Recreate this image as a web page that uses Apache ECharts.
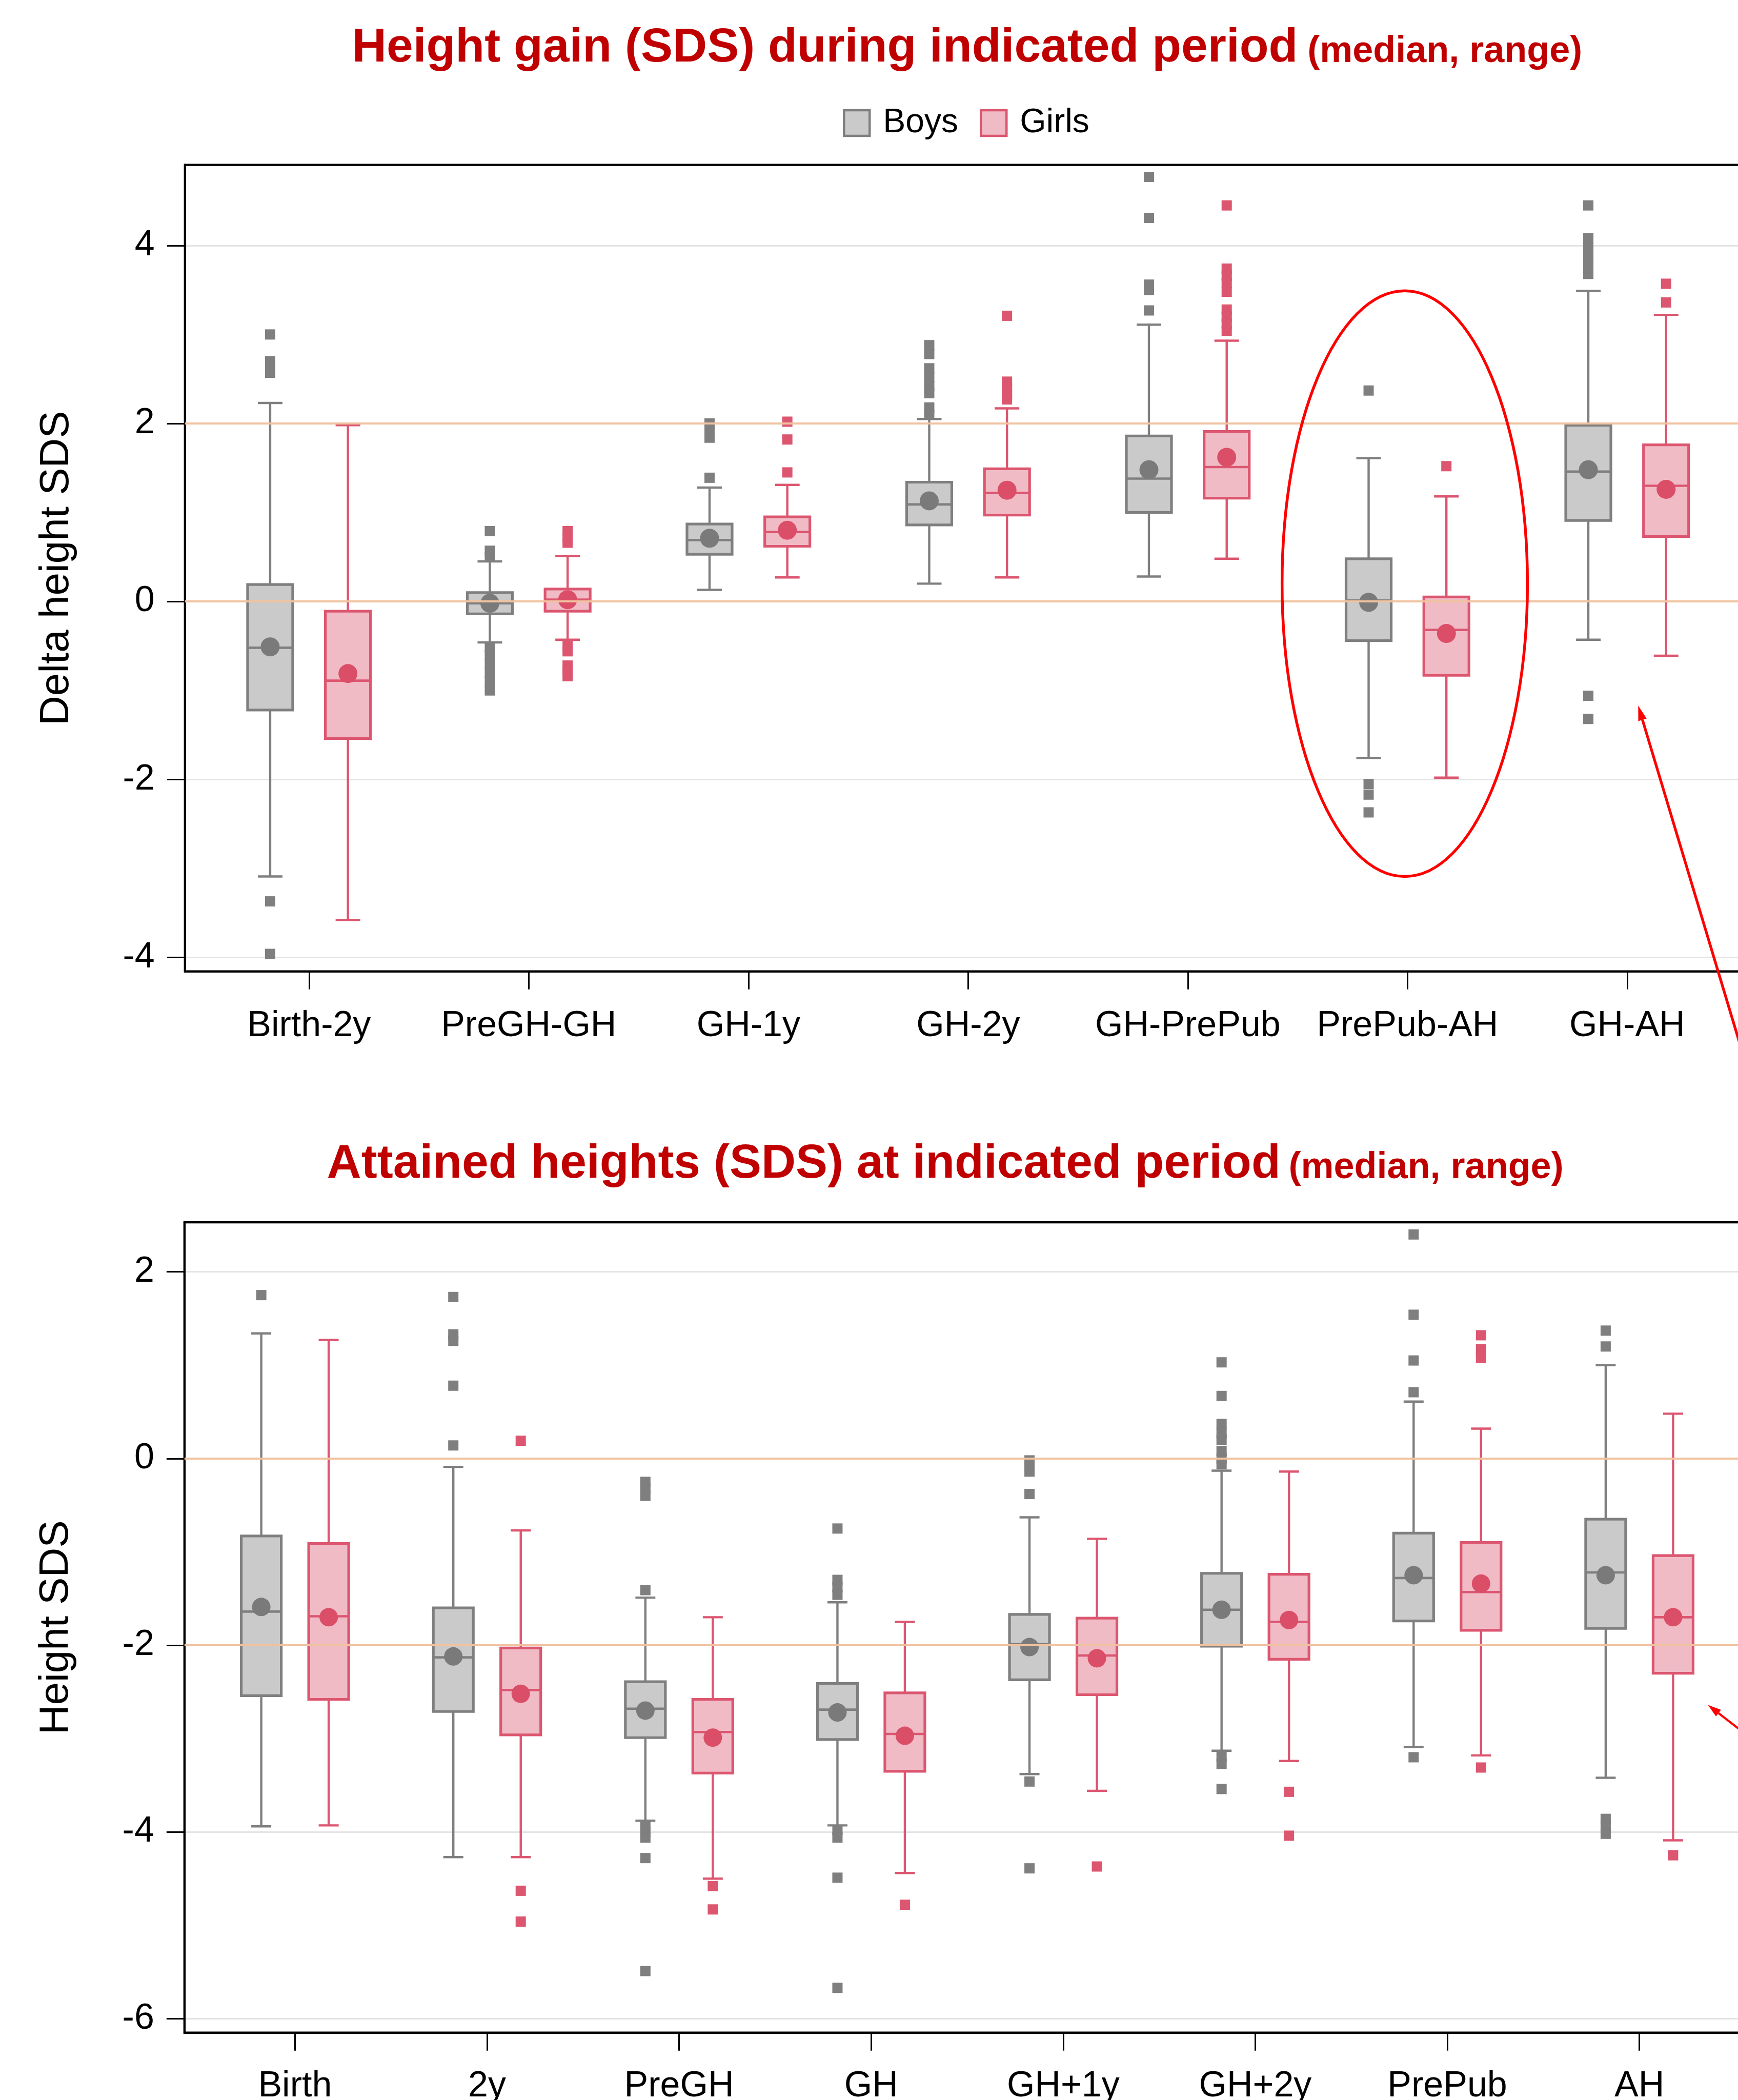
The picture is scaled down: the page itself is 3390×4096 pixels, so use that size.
<!DOCTYPE html>
<html><head><meta charset="utf-8">
<script src="https://cdn.jsdelivr.net/npm/echarts@6/dist/echarts.min.js"></script>
<style>html,body{margin:0;padding:0;background:#fff}#c{width:3390px;height:4096px}</style>
</head><body><div id="c"></div>
<script>
// ---------------- DATA ----------------
// Box values: [min, Q1, median, Q3, max]
const gainCategories = ['Birth-2y', 'PreGH-GH', 'GH-1y', 'GH-2y', 'GH-PrePub', 'PrePub-AH', 'GH-AH'];
const gainBoysBox = [
  [-3.09, -1.22, -0.52, 0.19, 2.23],
  [-0.46, -0.14, -0.02, 0.10, 0.45],
  [0.13, 0.53, 0.69, 0.87, 1.28],
  [0.20, 0.86, 1.09, 1.34, 2.05],
  [0.28, 1.00, 1.38, 1.86, 3.11],
  [-1.76, -0.44, 0.01, 0.48, 1.61],
  [-0.43, 0.91, 1.46, 1.98, 3.49]
];
const gainBoysMean = [-0.51, -0.02, 0.71, 1.13, 1.48, -0.01, 1.48];
const gainBoysOutliers = [
  [3.00, 2.70, 2.63, 2.57, -3.37, -3.96],
  [0.79, 0.57, 0.50, -0.52, -0.60, -0.70, -0.80, -0.90, -1.00],
  [2.00, 1.92, 1.84, 1.39],
  [2.88, 2.78, 2.62, 2.52, 2.42, 2.34, 2.18, 2.10],
  [4.77, 4.31, 3.56, 3.50, 3.27],
  [2.37, -2.05, -2.17, -2.37],
  [4.45, 4.08, 3.98, 3.88, 3.78, 3.68, -1.06, -1.32]
];
const gainGirlsBox = [
  [-3.58, -1.54, -0.89, -0.11, 1.98],
  [-0.43, -0.11, 0.02, 0.14, 0.51],
  [0.27, 0.62, 0.78, 0.95, 1.31],
  [0.27, 0.97, 1.22, 1.49, 2.17],
  [0.48, 1.16, 1.51, 1.91, 2.93],
  [-1.98, -0.83, -0.32, 0.05, 1.18],
  [-0.61, 0.73, 1.30, 1.76, 3.22]
];
const gainGirlsMean = [-0.81, 0.02, 0.80, 1.25, 1.62, -0.36, 1.26];
const gainGirlsOutliers = [
  [],
  [0.79, 0.72, 0.66, -0.50, -0.56, -0.72, -0.78, -0.84],
  [2.02, 1.82, 1.45],
  [3.21, 2.47, 2.40, 2.33, 2.27],
  [4.45, 3.74, 3.66, 3.58, 3.48, 3.28, 3.20, 3.12, 3.04],
  [1.52],
  [3.57, 3.36]
];
const gainTicks = [-4, -2, 0, 2, 4];
const gainRefLines = [0, 2];

const attCategories = ['Birth', '2y', 'PreGH', 'GH', 'GH+1y', 'GH+2y', 'PrePub', 'AH'];
const attBoysBox = [
  [-3.94, -2.54, -1.64, -0.83, 1.34],
  [-4.27, -2.71, -2.13, -1.60, -0.09],
  [-3.88, -2.99, -2.68, -2.39, -1.49],
  [-3.93, -3.01, -2.69, -2.41, -1.54],
  [-3.38, -2.37, -1.99, -1.67, -0.63],
  [-3.13, -2.01, -1.62, -1.23, -0.13],
  [-3.09, -1.74, -1.28, -0.80, 0.61],
  [-3.42, -1.82, -1.22, -0.65, 1.00]
];
const attBoysMean = [-1.59, -2.12, -2.70, -2.72, -2.02, -1.62, -1.25, -1.25];
const attBoysOutliers = [
  [1.75],
  [1.73, 1.33, 1.26, 0.78, 0.14],
  [-0.25, -0.32, -0.40, -1.41, -3.93, -4.00, -4.06, -4.28, -5.49],
  [-0.75, -1.30, -1.38, -1.46, -3.98, -4.06, -4.49, -5.67],
  [-0.02, -0.08, -0.14, -0.38, -3.46, -4.39],
  [1.03, 0.67, 0.37, 0.27, 0.20, 0.08, 0.00, -0.06, -3.19, -3.27, -3.54],
  [2.40, 1.54, 1.05, 0.71, -3.20],
  [1.37, 1.20, -3.86, -3.94, -4.02]
];
const attGirlsBox = [
  [-3.93, -2.58, -1.69, -0.91, 1.27],
  [-4.27, -2.96, -2.48, -2.03, -0.77],
  [-4.50, -3.37, -2.93, -2.58, -1.70],
  [-4.44, -3.35, -2.95, -2.51, -1.75],
  [-3.56, -2.53, -2.11, -1.71, -0.86],
  [-3.24, -2.15, -1.75, -1.24, -0.14],
  [-3.18, -1.84, -1.43, -0.90, 0.32],
  [-4.09, -2.30, -1.70, -1.04, 0.48]
];
const attGirlsMean = [-1.70, -2.52, -2.99, -2.97, -2.14, -1.73, -1.34, -1.70];
const attGirlsOutliers = [
  [],
  [0.19, -4.63, -4.96],
  [-4.58, -4.83],
  [-4.78],
  [-4.37],
  [-3.57, -4.04],
  [1.32, 1.17, 1.08, -3.31],
  [-4.25]
];
const attTicks = [-6, -4, -2, 0, 2];
const attRefLines = [-2, 0];

// annotation anchors (data coordinates of each panel)
const gainEllipse = {xFrom: 5.429, xTo: 6.546, yFrom: -3.09, yTo: 3.49};
const gainArrow = {tip: [7.05, -1.17], tail: [7.62, -5.85]};
const attArrow = {tip: [8.357, -2.64], tail: [8.646, -3.10]};

// ---------------- STYLE ----------------
const S = 0.966;
const FF = '"Liberation Sans", Arial, Helvetica, sans-serif';
const COL = {
  boysLine: '#7f7f7f', boysFill: 'rgba(128,128,128,0.42)', boysDot: '#7a7a7a',
  girlsLine: '#dc5670', girlsFill: 'rgba(220,86,112,0.40)', girlsDot: '#db4e68',
  grid: '#e4e4e4', ref: '#f0c2a0', title: '#c00000', annot: '#ff0000'
};

const panels = [
  {
    cats: gainCategories, boys: gainBoysBox, girls: gainGirlsBox,
    boysMean: gainBoysMean, girlsMean: gainGirlsMean,
    boysOut: gainBoysOutliers, girlsOut: gainGirlsOutliers,
    ticks: gainTicks, refs: gainRefLines, name: 'Delta height SDS',
    grid: {left: 373.5 * S, top: 333 * S, width: 3162.6 * S, height: 1628.4 * S},
    xMin: 0.4353, xMax: 7.5647, yMin: -4.157, yMax: 4.905,
    off: 0.177, boxW: 88, capW: 48, dot: 37, labelMargin: 72
  },
  {
    cats: attCategories, boys: attBoysBox, girls: attGirlsBox,
    boysMean: attBoysMean, girlsMean: attGirlsMean,
    boysOut: attBoysOutliers, girlsOut: attGirlsOutliers,
    ticks: attTicks, refs: attRefLines, name: 'Height SDS',
    grid: {left: 372.5 * S, top: 2468 * S, width: 3160.8 * S, height: 1636.2 * S},
    xMin: 0.4247, xMax: 8.5753, yMin: -6.15, yMax: 2.53,
    off: 0.1755, boxW: 78, capW: 39, dot: 36, labelMargin: 70
  }
];

function boxRenderer(boxW, capW, lineColor, fillColor) {
  return function (params, api) {
    const x = api.value(0);
    const pMin = api.coord([x, api.value(1)]);
    const pQ1 = api.coord([x, api.value(2)]);
    const pMed = api.coord([x, api.value(3)]);
    const pQ3 = api.coord([x, api.value(4)]);
    const pMax = api.coord([x, api.value(5)]);
    const cx = pMed[0], hw = boxW / 2, hc = capW / 2;
    const ls = {stroke: lineColor, lineWidth: 4.4};
    return {
      type: 'group',
      children: [
        {type: 'line', shape: {x1: cx, y1: pMax[1], x2: cx, y2: pQ3[1]}, style: ls},
        {type: 'line', shape: {x1: cx, y1: pQ1[1], x2: cx, y2: pMin[1]}, style: ls},
        {type: 'line', shape: {x1: cx - hc, y1: pMax[1], x2: cx + hc, y2: pMax[1]}, style: ls},
        {type: 'line', shape: {x1: cx - hc, y1: pMin[1], x2: cx + hc, y2: pMin[1]}, style: ls},
        {type: 'rect', shape: {x: cx - hw, y: pQ3[1], width: boxW, height: pQ1[1] - pQ3[1]},
          style: {fill: fillColor, stroke: lineColor, lineWidth: 5.2}},
        {type: 'line', shape: {x1: cx - hw, y1: pMed[1], x2: cx + hw, y2: pMed[1]},
          style: {stroke: lineColor, lineWidth: 4.6}}
      ]
    };
  };
}

const grids = [], xAxes = [], yAxes = [], series = [];
panels.forEach(function (p, gi) {
  grids.push(Object.assign({show: true, borderColor: '#000', borderWidth: 4.2, backgroundColor: 'transparent',
    containLabel: false, outerBoundsMode: 'none'}, p.grid));
  const catIdx = p.cats.map(function (c, i) { return i + 1; });
  xAxes.push({
    type: 'value', gridIndex: gi, min: p.xMin, max: p.xMax,
    axisLine: {show: true, onZero: false, lineStyle: {color: '#000', width: 4.2}},
    axisTick: {show: true, inside: false, length: 35, customValues: catIdx, lineStyle: {color: '#000', width: 3}},
    axisLabel: {show: true, customValues: catIdx, margin: p.labelMargin, fontSize: 70, color: '#000', fontFamily: FF,
      formatter: function (v) { return p.cats[Math.round(v) - 1] || ''; }},
    splitLine: {show: false}
  });
  yAxes.push({
    type: 'value', gridIndex: gi, min: p.yMin, max: p.yMax,
    name: p.name, nameLocation: 'middle', nameGap: 210,
    nameTextStyle: {fontSize: 80, color: '#000', fontFamily: FF},
    axisLine: {show: true, onZero: false, lineStyle: {color: '#000', width: 4.2}},
    axisTick: {show: true, inside: false, length: 35, customValues: p.ticks, lineStyle: {color: '#000', width: 3}},
    axisLabel: {show: true, customValues: p.ticks, margin: 59, fontSize: 70, color: '#000', fontFamily: FF},
    splitLine: {show: true, lineStyle: {color: COL.grid, width: 3}}
  });
  // reference lines
  series.push({
    type: 'scatter', name: 'ref' + gi, xAxisIndex: gi, yAxisIndex: gi, data: [], z: 1, silent: true,
    markLine: {silent: true, symbol: ['none', 'none'], label: {show: false},
      lineStyle: {color: COL.ref, width: 4, type: 'solid'},
      emphasis: {disabled: true},
      data: p.refs.map(function (v) { return {yAxis: v}; })}
  });
  const groups = [
    {name: 'Boys', box: p.boys, mean: p.boysMean, out: p.boysOut, sign: -1, line: COL.boysLine, fill: COL.boysFill, dot: COL.boysDot},
    {name: 'Girls', box: p.girls, mean: p.girlsMean, out: p.girlsOut, sign: 1, line: COL.girlsLine, fill: COL.girlsFill, dot: COL.girlsDot}
  ];
  groups.forEach(function (g) {
    const xs = g.box.map(function (b, i) { return i + 1 + g.sign * p.off; });
    series.push({
      type: 'custom', name: g.name, xAxisIndex: gi, yAxisIndex: gi, z: 2, silent: true,
      renderItem: boxRenderer(p.boxW, p.capW, g.line, g.fill),
      encode: {x: 0, y: [1, 2, 3, 4, 5]},
      itemStyle: {color: g.fill, borderColor: g.line},
      data: g.box.map(function (b, i) { return [xs[i]].concat(b); })
    });
    const outData = [];
    g.out.forEach(function (arr, i) { arr.forEach(function (v) { outData.push([xs[i], v]); }); });
    series.push({
      type: 'scatter', name: g.name, xAxisIndex: gi, yAxisIndex: gi, z: 3, silent: true,
      symbol: 'rect', symbolSize: 20, itemStyle: {color: g.line, opacity: 1},
      data: outData
    });
    series.push({
      type: 'scatter', name: g.name, xAxisIndex: gi, yAxisIndex: gi, z: 4, silent: true,
      symbol: 'circle', symbolSize: p.dot, itemStyle: {color: g.dot, opacity: 1},
      data: g.mean.map(function (m, i) { return [xs[i], m]; })
    });
  });
});

const chart = echarts.init(document.getElementById('c'), null, {renderer: 'canvas'});
chart.setOption({
  animation: false,
  backgroundColor: '#ffffff',
  textStyle: {fontFamily: FF},
  grid: grids, xAxis: xAxes, yAxis: yAxes, series: series,
  legend: {
    show: true, left: 1644, top: 207, padding: 0, itemWidth: 50, itemHeight: 50, itemGap: 42,
    selectedMode: false, icon: 'rect',
    textStyle: {fontSize: 66, color: '#000', fontFamily: FF, padding: [0, 0, 0, 21]},
    data: [
      {name: 'Boys', icon: 'rect', itemStyle: {color: COL.boysFill, borderColor: COL.boysLine, borderWidth: 4.5}},
      {name: 'Girls', icon: 'rect', itemStyle: {color: COL.girlsFill, borderColor: COL.girlsLine, borderWidth: 4.5}}
    ]
  }
});

// ---------------- TEXT + ANNOTATIONS ----------------
function px(gi, pt) { return chart.convertToPixel({xAxisIndex: gi, yAxisIndex: gi}, pt); }
function arrow(gi, a, lw, L, W, id) {
  const t = px(gi, a.tip), s = px(gi, a.tail);
  const dx = t[0] - s[0], dy = t[1] - s[1], len = Math.sqrt(dx * dx + dy * dy);
  const ux = dx / len, uy = dy / len, nx = -uy, ny = ux;
  const bx = t[0] - ux * L, by = t[1] - uy * L;
  return [
    {type: 'line', id: id + 'l', z: 100, shape: {x1: s[0], y1: s[1], x2: bx, y2: by},
      style: {stroke: COL.annot, lineWidth: lw}},
    {type: 'polygon', id: id + 'h', z: 100, shape: {points: [t, [bx + nx * W / 2, by + ny * W / 2], [bx - nx * W / 2, by - ny * W / 2]]},
      style: {fill: COL.annot}}
  ];
}
function txt(id, text, x, y, size) {
  return {type: 'text', id: id, z: 100, style: {text: text, x: x, y: y, fill: COL.title, fontSize: size,
    fontWeight: 'bold', fontFamily: FF, align: 'left', verticalAlign: 'middle', textAlign: 'left', textVerticalAlign: 'middle'}};
}
const e0 = px(0, [gainEllipse.xFrom, gainEllipse.yTo]);
const e1 = px(0, [gainEllipse.xTo, gainEllipse.yFrom]);
const elements = [
  txt('t1', 'Height gain (SDS) during indicated period', 711 * S, 98 * S, 93),
  txt('t1b', '(median, range)', 2640 * S, 105 * S, 72),
  txt('t2', 'Attained heights (SDS) at indicated period', 660 * S, 2351 * S, 93),
  txt('t2b', '(median, range)', 2602 * S, 2358 * S, 72),
  {type: 'ellipse', id: 'ell', z: 100,
    shape: {cx: (e0[0] + e1[0]) / 2, cy: (e0[1] + e1[1]) / 2, rx: Math.abs(e1[0] - e0[0]) / 2, ry: Math.abs(e1[1] - e0[1]) / 2},
    style: {fill: 'none', stroke: COL.annot, lineWidth: 5.5}}
].concat(arrow(0, gainArrow, 5.3, 29, 17, 'a1')).concat(arrow(1, attArrow, 4.3, 26, 16, 'a2'));
chart.setOption({graphic: {elements: elements}});
</script>
</body></html>
